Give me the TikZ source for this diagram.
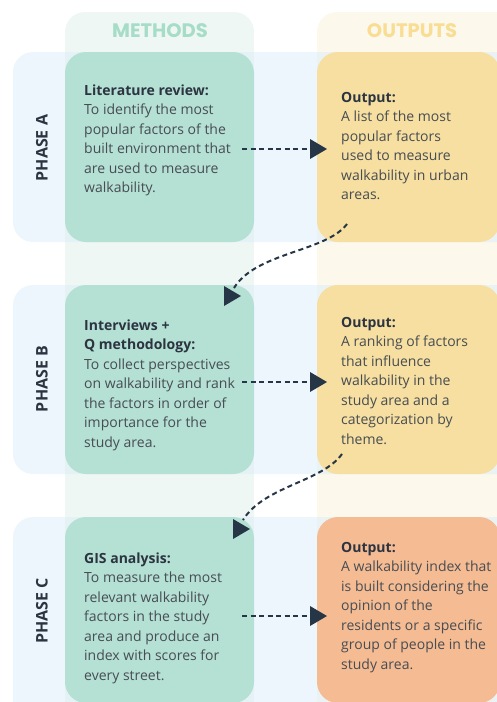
\documentclass[tikz,border=0pt]{standalone}
\usepackage{fontspec}
\setmainfont{Open Sans}
\newfontfamily\hdrfont{Poppins}
\definecolor{colM}{HTML}{EEF7F3}
\definecolor{colO}{HTML}{FCF8EC}
\definecolor{bandc}{HTML}{DCEEFA}
\definecolor{boxM}{HTML}{B5E0D4}
\definecolor{boxO}{HTML}{F6DFA0}
\definecolor{boxC}{HTML}{F5BB93}
\definecolor{hdrM}{HTML}{A6DCC8}
\definecolor{hdrO}{HTML}{F8DD93}
\definecolor{bodyc}{HTML}{474D53}
\definecolor{headc}{HTML}{2B3440}
\definecolor{arrowc}{HTML}{263646}
\begin{document}
\begin{tikzpicture}[x=1pt,y=-1pt,
  column/.style={rounded corners=20pt},
  band/.style={fill=bandc,fill opacity=0.5,rounded corners=20pt},
  methodbox/.style={fill=boxM,rounded corners=21pt},
  outbox/.style={rounded corners=21pt},
  txt/.style={anchor=base west,inner sep=0pt,text=bodyc,font={\fontsize{14}{19.5}\selectfont}},
  phase/.style={rotate=90,inner sep=0pt,text=headc,font={\fontsize{16}{18}\selectfont\bfseries}},
  hdr/.style={inner sep=0pt,font={\hdrfont\fontsize{19.5}{22}\selectfont\bfseries}},
  dashline/.style={draw=arrowc,line width=2pt,dash pattern=on 5pt off 3.5pt},
]
\newcommand{\hd}[1]{\textcolor{headc}{\bfseries #1}}
\newcommand{\tri}[1]{\fill[arrowc] (#1) ++(-17,-10) -- ++(17,10) -- ++(-17,10) -- cycle;}
\useasboundingbox (0,0) rectangle (497,702);
% columns
\fill[colM,column] (65,12) rectangle (254,740);
\fill[colO,column] (317,12) rectangle (540,740);
% phase bands
\fill[band] (13,52) rectangle (540,242);
\fill[band] (13,285) rectangle (540,474);
\fill[band] (13,517) rectangle (540,740);
% headers
\node[hdr,text=hdrM] (hM) at (160,31) {METHODS};
\node[hdr,text=hdrO] (hO) at (412,31) {OUTPUTS};
% boxes
\path[methodbox] (65,52) rectangle (254,242);
\path[methodbox] (65,285) rectangle (254,474);
\path[methodbox] (65,517) rectangle (254,703);
\path[outbox,fill=boxO] (317,52) rectangle (500,242);
\path[outbox,fill=boxO] (317,285) rectangle (500,474);
\path[outbox,fill=boxC] (317,517) rectangle (500,703);
% phase labels
\node[phase] (pA) at (42,148) {PHASE A};
\node[phase] (pB) at (42,379) {PHASE B};
\node[phase] (pC) at (42,611) {PHASE C};
% texts
\node[txt] (mA) at (84,95) {\begin{tabular}[t]{@{}l@{}}\hd{Literature review:}\\To identify the most\\popular factors of the\\built environment that\\are used to measure\\walkability.\end{tabular}};
\node[txt] (oA) at (341,102) {\begin{tabular}[t]{@{}l@{}}\hd{Output:}\\A list of the most\\popular factors\\used to measure\\walkability in urban\\areas.\end{tabular}};
\node[txt] (mB) at (84,330) {\begin{tabular}[t]{@{}l@{}}\hd{Interviews +}\\\hd{Q methodology:}\\To collect perspectives\\on walkability and rank\\the factors in order of\\importance for the\\study area.\end{tabular}};
\node[txt] (oB) at (341,327) {\begin{tabular}[t]{@{}l@{}}\hd{Output:}\\A ranking of factors\\that influence\\walkability in the\\study area and a\\categorization by\\theme.\end{tabular}};
\node[txt] (mC) at (84,563) {\begin{tabular}[t]{@{}l@{}}\hd{GIS analysis:}\\To measure the most\\relevant walkability\\factors in the study\\area and produce an\\index with scores for\\every street.\end{tabular}};
\node[txt] (oC) at (341,552) {\begin{tabular}[t]{@{}l@{}}\hd{Output:}\\A walkability index that\\is built considering the\\opinion of the\\residents or a specific\\group of people in the\\study area.\end{tabular}};
% arrow points
\coordinate (a1s) at (242,149); \coordinate (a1e) at (312,149); \coordinate (a1t) at (327,149);
\coordinate (a2s) at (242,382); \coordinate (a2e) at (312,382); \coordinate (a2t) at (327,382);
\coordinate (a3s) at (242,616); \coordinate (a3e) at (312,616); \coordinate (a3t) at (327,616);
\coordinate (c1s) at (347,224); \coordinate (c1e) at (234,288); \coordinate (c1t) at (241,296);
\coordinate (c2s) at (342,454); \coordinate (c2e) at (243,520); \coordinate (c2t) at (250,529);
\draw[dashline] (a1s) -- (a1e); \tri{a1t}
\draw[dashline] (a2s) -- (a2e); \tri{a2t}
\draw[dashline] (a3s) -- (a3e); \tri{a3t}
\draw[dashline] (c1s) .. controls (326,252) and (256,252) .. (c1e); \tri{c1t}
\draw[dashline] (c2s) .. controls (322,482) and (264,486) .. (c2e); \tri{c2t}
\end{tikzpicture}
\end{document}
